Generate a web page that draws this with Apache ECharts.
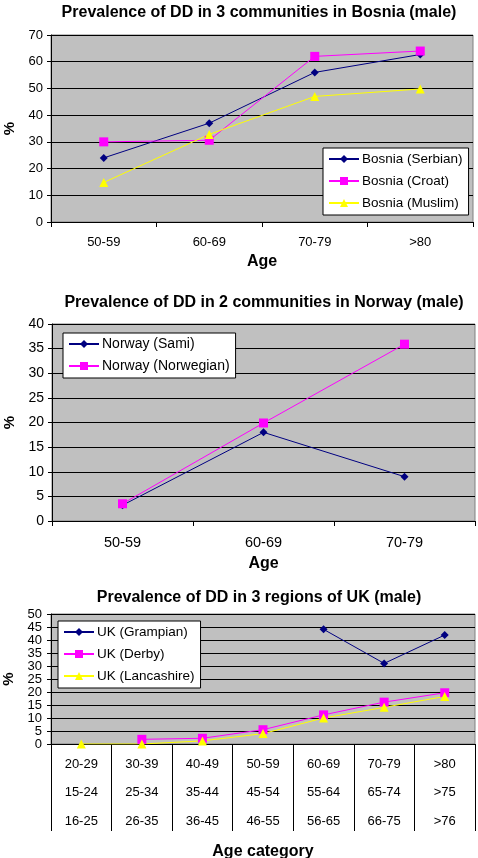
<!DOCTYPE html>
<html><head><meta charset="utf-8">
<script src="https://cdn.jsdelivr.net/npm/echarts@6/dist/echarts.min.js"></script>
<style>html,body{margin:0;padding:0;background:#fff}#c{width:478px;height:858px}</style>
</head><body><div id="c"></div>
<script>
// Chart 1: Bosnia
const bosniaCats = ['50-59','60-69','70-79','>80'];
const bosniaSerbian = [24, 37, 56, 62.7];
const bosniaCroat = [30, 30.6, 62, 64];
const bosniaMuslim = [14.8, 32.8, 47, 49.8];
// Chart 2: Norway
const norwayCats = ['50-59','60-69','70-79'];
const norwaySami = [3.2, 18, 9];
const norwayNorwegian = [3.5, 19.9, 35.9];
// Chart 3: UK
const ukRow1 = ['20-29','30-39','40-49','50-59','60-69','70-79','>80'];
const ukRow2 = ['15-24','25-34','35-44','45-54','55-64','65-74','>75'];
const ukRow3 = ['16-25','26-35','36-45','46-55','56-65','66-75','>76'];
const ukGrampian = [null, null, null, null, 44.1, 31, 41.9];
const ukDerby = [null, 1.8, 2.2, 5.5, 11.2, 16.1, 19.7];
const ukLancashire = [0, 0, 1.2, 4, 10, 14.1, 18.3];

const ukCats = ukRow1.map((v,i)=>v+'\n'+ukRow2[i]+'\n'+ukRow3[i]);
const FONT = '"Liberation Sans", Arial, sans-serif';
const NAVY = '#000080', MAG = '#ff00ff', YEL = '#ffff00';

function gridCfg(top, height, left, right){
  return {left, right, top, height, show:true, backgroundColor:'#c0c0c0', borderColor:'#808080', borderWidth:1,
    containLabel:false, outerBoundsMode:'none'};
}
function yAx(idx, max, interval, fs, margin){
  return {type:'value', gridIndex:idx, min:0, max, interval,
    name:'%', nameLocation:'middle', nameGap:33, nameRotate:90,
    nameTextStyle:{fontFamily:FONT, fontSize:15, fontWeight:'bold', color:'#000'},
    axisLine:{show:true, lineStyle:{color:'#000', width:1}},
    axisTick:{show:true, length:4, lineStyle:{color:'#000'}},
    axisLabel:{fontFamily:FONT, fontSize:fs, color:'#000', margin, showMinLabel:true, showMaxLabel:true, hideOverlap:false},
    splitLine:{show:true, lineStyle:{color:'#000', width:1}}};
}
function xAx(idx, cats, name, nameGap, margin, fs, extra){
  return Object.assign({type:'category', gridIndex:idx, data:cats, boundaryGap:true,
    name, nameLocation:'middle', nameGap,
    nameTextStyle:{fontFamily:FONT, fontSize:16, fontWeight:'bold', color:'#000'},
    axisLine:{show:true, lineStyle:{color:'#000', width:1}},
    axisTick:{show:true, length:5, interval:0, lineStyle:{color:'#000'}},
    axisLabel:{fontFamily:FONT, fontSize:fs, color:'#000', margin, interval:0},
    splitLine:{show:false}}, extra||{});
}
function ser(name, data, idx, color, symbol, size){
  return {type:'line', name, data, xAxisIndex:idx, yAxisIndex:idx, symbol, symbolSize:size,
    connectNulls:false, showAllSymbol:true,
    lineStyle:{color, width:1}, itemStyle:{color}, emphasis:{disabled:true}, z:3};
}
function legendCfg(names, left, top, width, fs){
  return {data:names, orient:'vertical', left, top, width,
    backgroundColor:'#fff', borderColor:'#000', borderWidth:1,
    padding:[3,6,4,5], itemGap:6, itemWidth:30, itemHeight:10,
    textStyle:{fontFamily:FONT, fontSize:fs, color:'#000', lineHeight:16, padding:[0,0,0,-2]}, selectedMode:false};
}
function titleCfg(text, cx, top){
  return {text, left:cx, top, textAlign:'center',
    textStyle:{fontFamily:FONT, fontSize:16, fontWeight:'bold', color:'#000'}};
}

const chart = echarts.init(document.getElementById('c'), null, {renderer:'canvas'});
chart.setOption({
  animation:false,
  backgroundColor:'#fff',
  title:[
    titleCfg('Prevalence of DD in 3 communities in Bosnia (male)', 254, 0),
    titleCfg('Prevalence of DD in 2 communities in Norway (male)', 259, 290),
    titleCfg('Prevalence of DD in 3 regions of UK (male)', 254, 585)
  ],
  legend:[
    legendCfg(['Bosnia (Serbian)','Bosnia (Croat)','Bosnia (Muslim)'], 323, 148, 132, 13.5),
    legendCfg(['Norway (Sami)','Norway (Norwegian)'], 63, 333, 160, 14),
    legendCfg(['UK (Grampian)','UK (Derby)','UK (Lancashire)'], 58, 621, 126, 13.5)
  ],
  grid:[
    gridCfg(35, 187, 51, 5),
    gridCfg(324, 197, 52, 3),
    gridCfg(614, 130, 51, 3)
  ],
  xAxis:[
    xAx(0, bosniaCats, 'Age', 32, 14, 13),
    xAx(1, norwayCats, 'Age', 35, 14, 14.5),
    xAx(2, ukCats, 'Age category', 100, 6, 13, {
      axisTick:{show:true, length:87, interval:0, lineStyle:{color:'#000'}},
      axisLabel:{fontFamily:FONT, fontSize:13, color:'#000', margin:6, interval:0, lineHeight:28.5}
    })
  ],
  yAxis:[
    yAx(0, 70, 10, 13, 8),
    yAx(1, 40, 5, 14, 8),
    yAx(2, 50, 5, 13, 9)
  ],
  series:[
    ser('Bosnia (Serbian)', bosniaSerbian, 0, NAVY, 'diamond', 8),
    ser('Bosnia (Croat)', bosniaCroat, 0, MAG, 'rect', 9),
    ser('Bosnia (Muslim)', bosniaMuslim, 0, YEL, 'triangle', 9),
    ser('Norway (Sami)', norwaySami, 1, NAVY, 'diamond', 8),
    ser('Norway (Norwegian)', norwayNorwegian, 1, MAG, 'rect', 9),
    ser('UK (Grampian)', ukGrampian, 2, NAVY, 'diamond', 8),
    ser('UK (Derby)', ukDerby, 2, MAG, 'rect', 9),
    ser('UK (Lancashire)', ukLancashire, 2, YEL, 'triangle', 9)
  ]
});
</script></body></html>
